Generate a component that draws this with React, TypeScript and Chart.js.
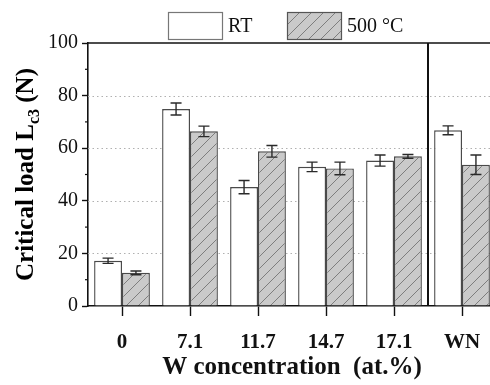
import React, { useEffect, useRef } from "react";
import { Chart, registerables } from "chart.js";

Chart.register(...registerables);

const categories = ["0", "7.1", "11.7", "14.7", "17.1", "WN"];
const rtValues = [17.2, 74.9, 45.2, 52.9, 55.3, 66.8];
const rtErrors = [1.0, 2.3, 2.5, 1.8, 2.1, 1.7];
const hotValues = [12.6, 66.4, 58.8, 52.3, 56.9, 53.7];
const hotErrors = [0.7, 2.0, 2.2, 2.4, 0.7, 3.7];
const seriesNames = ["RT", "500 °C"];
const yTicks = [0, 20, 40, 60, 80, 100];
const gridValues = [20, 40, 60, 80];
const minorTicks = [10, 30, 50, 70, 90];

const SERIF = "'Liberation Serif', 'DejaVu Serif', serif";

function makeHatch(): CanvasPattern | string {
  const c = document.createElement("canvas");
  const s = 12;
  c.width = s;
  c.height = s;
  const g = c.getContext("2d");
  if (!g) return "#cacaca";
  g.fillStyle = "#cacaca";
  g.fillRect(0, 0, s, s);
  g.strokeStyle = "#757575";
  g.lineWidth = 0.9;
  g.beginPath();
  g.moveTo(-2, s + 2);
  g.lineTo(s + 2, -2);
  g.moveTo(-2, 2);
  g.lineTo(2, -2);
  g.moveTo(s - 2, s + 2);
  g.lineTo(s + 2, s - 2);
  g.stroke();
  const p = g.createPattern(c, "repeat");
  return p || "#cacaca";
}

export default function App() {
  const ref = useRef<HTMLCanvasElement | null>(null);

  useEffect(() => {
    const canvas = ref.current;
    if (!canvas) return;
    const hatch = makeHatch();
    const errors = [rtErrors, hotErrors];

    const extras = {
      id: "extras",
      beforeDatasetsDraw(chart: any) {
        const { ctx, chartArea, scales } = chart;
        const y = scales.y;
        ctx.save();
        ctx.strokeStyle = "#b0b0b0";
        ctx.lineWidth = 1;
        ctx.setLineDash([1.5, 3]);
        gridValues.forEach((v) => {
          const py = Math.round(y.getPixelForValue(v)) + 0.5;
          ctx.beginPath();
          ctx.moveTo(chartArea.left, py);
          ctx.lineTo(chartArea.right, py);
          ctx.stroke();
        });
        ctx.restore();
      },
      afterDatasetsDraw(chart: any) {
        const { ctx, chartArea, scales } = chart;
        const y = scales.y;
        const x = scales.x;
        ctx.save();
        // error bars
        ctx.strokeStyle = "#2a2a2a";
        ctx.lineWidth = 1.4;
        chart.data.datasets.forEach((ds: any, di: number) => {
          const meta = chart.getDatasetMeta(di);
          meta.data.forEach((el: any, j: number) => {
            const v = ds.data[j];
            const e = errors[di][j];
            const top = y.getPixelForValue(v + e);
            const bot = y.getPixelForValue(v - e);
            const cx = el.x;
            ctx.beginPath();
            ctx.moveTo(cx, top);
            ctx.lineTo(cx, bot);
            ctx.moveTo(cx - 5.5, top);
            ctx.lineTo(cx + 5.5, top);
            ctx.moveTo(cx - 5.5, bot);
            ctx.lineTo(cx + 5.5, bot);
            ctx.stroke();
          });
        });
        // top frame line
        ctx.strokeStyle = "#111";
        ctx.lineWidth = 1.6;
        ctx.beginPath();
        ctx.moveTo(chartArea.left, chartArea.top);
        ctx.lineTo(chartArea.right, chartArea.top);
        ctx.stroke();
        // separator before last category
        const n = categories.length;
        const sx = (x.getPixelForValue(n - 2) + x.getPixelForValue(n - 1)) / 2;
        ctx.lineWidth = 2;
        ctx.beginPath();
        ctx.moveTo(sx, chartArea.top);
        ctx.lineTo(sx, chartArea.bottom);
        ctx.stroke();
        // minor ticks
        ctx.lineWidth = 1.2;
        minorTicks.forEach((v) => {
          const py = y.getPixelForValue(v);
          ctx.beginPath();
          ctx.moveTo(chartArea.left - 3, py);
          ctx.lineTo(chartArea.left, py);
          ctx.stroke();
        });
        // y-axis title with subscript
        ctx.fillStyle = "#000";
        ctx.textBaseline = "alphabetic";
        const bigFont = `bold 25px ${SERIF}`;
        const subFont = `bold 16px ${SERIF}`;
        const parts = [
          { t: "Critical load L", f: bigFont, dy: 0 },
          { t: "c3", f: subFont, dy: 6 },
          { t: " (N)", f: bigFont, dy: 0 },
        ];
        let total = 0;
        const widths = parts.map((p) => {
          ctx.font = p.f;
          const w = ctx.measureText(p.t).width;
          total += w;
          return w;
        });
        ctx.translate(33, (chartArea.top + chartArea.bottom) / 2);
        ctx.rotate(-Math.PI / 2);
        let cx = -total / 2;
        parts.forEach((p, i) => {
          ctx.font = p.f;
          ctx.fillText(p.t, cx, p.dy);
          cx += widths[i];
        });
        ctx.restore();

        // legend
        ctx.save();
        const items = [
          { x: 168, fill: "#ffffff", stroke: "#777" },
          { x: 287, fill: hatch, stroke: "#555" },
        ];
        ctx.font = `20px ${SERIF}`;
        ctx.textBaseline = "middle";
        items.forEach((it, i) => {
          ctx.fillStyle = it.fill as any;
          ctx.fillRect(it.x, 12, 54, 27);
          ctx.strokeStyle = it.stroke;
          ctx.lineWidth = 1.2;
          ctx.strokeRect(it.x + 0.5, 12.5, 54, 27);
          ctx.fillStyle = "#111";
          ctx.fillText(seriesNames[i], it.x + 60, 27);
        });
        ctx.restore();
      },
    };

    const chart = new Chart(canvas, {
      type: "bar",
      data: {
        labels: categories,
        datasets: [
          {
            label: seriesNames[0],
            data: rtValues,
            backgroundColor: "#ffffff",
            borderColor: "#4a4a4a",
            borderWidth: 1.4,
            categoryPercentage: 0.82,
            barPercentage: 1,
          },
          {
            label: seriesNames[1],
            data: hotValues,
            backgroundColor: hatch as any,
            borderColor: "#4a4a4a",
            borderWidth: 1.4,
            categoryPercentage: 0.82,
            barPercentage: 1,
          },
        ],
      },
      options: {
        animation: false,
        responsive: false,
        devicePixelRatio: 1,
        layout: { padding: { top: 43, right: 4, bottom: 0, left: 0 } },
        plugins: {
          legend: { display: false },
          tooltip: { enabled: false },
        },
        scales: {
          x: {
            grid: {
              offset: false,
              drawOnChartArea: false,
              tickLength: 10,
              tickColor: "#111",
              tickWidth: 1.4,
            },
            border: { color: "#111", width: 1.6 },
            ticks: {
              color: "#111",
              padding: 14,
              font: { family: SERIF, size: 21, weight: "bold" },
            },
            title: {
              display: true,
              text: "W concentration  (at.%)",
              color: "#111",
              padding: { top: 0, bottom: 2 },
              font: { family: SERIF, size: 25, weight: "bold" },
            },
            afterFit: (s: any) => {
              s.height = 79;
            },
          },
          y: {
            min: 0,
            max: 100,
            afterBuildTicks: (s: any) => {
              s.ticks = yTicks.map((v) => ({ value: v }));
            },
            grid: {
              drawOnChartArea: false,
              tickLength: 6,
              tickColor: "#111",
              tickWidth: 1.4,
            },
            border: { color: "#111", width: 1.6 },
            ticks: {
              color: "#111",
              padding: 4,
              font: { family: SERIF, size: 20 },
            },
            afterFit: (s: any) => {
              s.width = 88;
            },
          },
        },
      },
      plugins: [extras],
    } as any);

    return () => chart.destroy();
  }, []);

  return (
    <div
      style={{
        position: "fixed",
        left: 0,
        top: 0,
        width: 490,
        height: 385,
        overflow: "hidden",
        background: "#fff",
      }}
    >
      <canvas ref={ref} width={500} height={385} style={{ width: 500, height: 385, display: "block" }} />
    </div>
  );
}
